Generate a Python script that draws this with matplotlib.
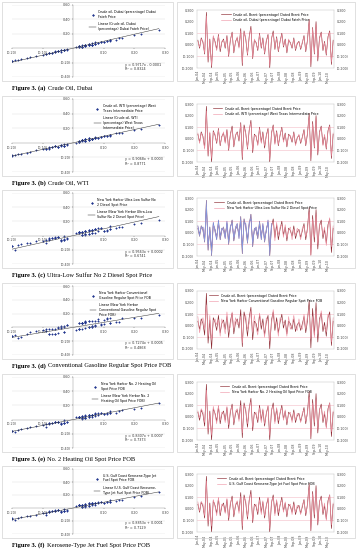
import textwrap
import numpy as np
import pandas as pd
import matplotlib
matplotlib.use("Agg")
import matplotlib.pyplot as plt
from matplotlib.patches import Rectangle
from matplotlib.ticker import FuncFormatter

# monthly returns in percent
brent = [4, -3, 6, 2, -8, 28, -15, 5, -20, 7,
         3, -4, 9, -6, 2, 5, -3, 8, -10, 4,
         11, -7, 3, 6, -2, 14, -18, 12, 5, -9,
         7, 16, -12, 4, 2, -5, 10, -3, 6, -8,
         3, 9, -20, 5, 12, -4, 7, -6, 3, 10,
         -2, 5, -7, 4, 2, -3, 6, -5, 1, 3,
         -4, 2, 8, -6, 4, 22, -19, 15, -8, 20,
         -14, 6, 11, -5, 3, -9, 7, 12, -17, 4]
dubai = [3, -2, 5, 3, -7, 25, -13, 4, -18, 8,
         2, -5, 8, -4, 3, 4, -2, 7, -9, 5,
         10, -6, 2, 7, -3, 12, -16, 11, 6, -8,
         6, 14, -11, 5, 1, -4, 9, -2, 5, -7,
         4, 8, -18, 6, 10, -3, 6, -5, 2, 9,
         -1, 4, -6, 5, 1, -2, 5, -4, 2, 2,
         -3, 3, 7, -5, 3, 20, -17, 14, -7, 18,
         -12, 5, 10, -4, 2, -8, 6, 11, -15, 3]
wti = [5, -4, 5, 1, -9, 24, -14, 6, -17, 6,
       4, -3, 8, -5, 1, 6, -4, 7, -9, 3,
       9, -6, 4, 5, -1, 13, -16, 10, 4, -8,
       8, 14, -10, 3, 3, -6, 9, -4, 5, -6,
       2, 8, -18, 4, 11, -5, 6, -5, 4, 9,
       -3, 4, -6, 3, 3, -2, 5, -6, 0, 4,
       -3, 1, 7, -5, 5, 19, -17, 13, -7, 18,
       -12, 5, 10, -6, 4, -8, 6, 11, -15, 5]
ulsd = [6, -1, 4, 5, -6, 22, -10, 2, -14, 9,
        1, -6, 11, -3, 4, 2, -5, 10, -7, 6,
        8, -4, 5, 8, -5, 11, -13, 9, 8, -6,
        9, 12, -8, 2, 5, -2, 7, -6, 8, -5,
        1, 11, -15, 8, 9, -7, 9, -2, 5, 7,
        -4, 7, -4, 2, 5, -6, 3, -2, 4, 1,
        -6, 5, 6, -3, 1, 18, -20, 12, -4, 16,
        -10, 8, 7, -2, 5, -11, 4, 13, -12, 6]
gasoline = [8, -6, 2, 7, -3, 18, -9, 9, -12, 2,
            6, 1, 5, -9, 6, 1, -7, 12, -4, -1,
            12, -2, 7, 1, 3, 8, -15, 6, 9, -3,
            2, 13, -5, 9, -2, -8, 11, 2, 1, -10,
            7, 4, -13, 1, 14, 2, 3, -9, 7, 5,
            3, 1, -9, 8, -3, 1, 9, -1, -4, 6,
            -1, -3, 10, -2, 8, 14, -11, 8, -10, 13,
            -7, 2, 13, 0, -2, -5, 10, 6, -14, 7]
heating = [5, -1, 7, 4, -5, 23, -12, 3, -16, 9,
           2, -6, 10, -3, 4, 3, -5, 9, -7, 6,
           9, -5, 5, 7, -4, 10, -14, 10, 7, -6,
           8, 13, -9, 2, 4, -3, 8, -5, 7, -6,
           2, 10, -16, 7, 9, -6, 8, -3, 4, 8,
           -3, 6, -5, 2, 4, -5, 4, -3, 3, 1,
           -5, 4, 6, -4, 2, 17, -17, 12, -5, 15,
           -11, 7, 8, -3, 5, -10, 5, 12, -13, 5]
jetfuel = [6, -2, 6, 4, -6, 24, -12, 3, -15, 8,
           2, -6, 10, -4, 4, 3, -4, 9, -8, 6,
           9, -5, 4, 7, -4, 11, -15, 10, 7, -7,
           8, 13, -10, 3, 4, -3, 8, -5, 7, -6,
           2, 10, -17, 7, 10, -6, 8, -3, 4, 8,
           -3, 6, -5, 3, 4, -5, 4, -3, 3, 1,
           -5, 4, 7, -4, 2, 19, -18, 13, -5, 17,
           -12, 7, 9, -3, 5, -10, 5, 12, -14, 5]

dates = pd.date_range("2004-01-01", periods=len(brent), freq="MS")

series_names = [
    "Crude oil, Dubai (percentage) Dubai Fateh Price",
    "Crude oil, WTI (percentage) West Texas Intermediate Price",
    "New York Harbor Ultra-Low Sulfur No 2 Diesel Spot Price",
    "New York Harbor Conventional Gasoline Regular Spot Price FOB",
    "New York Harbor No. 2 Heating Oil Spot Price FOB",
    "U.S. Gulf Coast Kerosene-Type Jet Fuel Spot Price FOB",
]
series_values = [dubai, wti, ulsd, gasoline, heating, jetfuel]
slopes = [0.9717, 0.9068, 0.9563, 0.7274, 0.8307, 0.8853]
intercepts = [-0.0001, 0.0003, 0.0002, 0.0005, 0.0007, 0.0001]
r2 = [0.8324, 0.8771, 0.6741, 0.4868, 0.7373, 0.7129]
cap_bold = ["Figure 3. (a)", "Figure 3. (b)", "Figure 3. (c)",
            "Figure 3. (d)", "Figure 3. (e)", "Figure 3. (f)"]
cap_rest = ["Crude Oil, Dubai", "Crude Oil, WTI",
            "Ultra-Low Sulfur No 2 Diesel Spot Price",
            "Conventional Gasoline Regular Spot Price FOB",
            "No. 2 Heating Oil Spot Price FOB",
            "Kerosene-Type Jet Fuel Spot Price FOB"]
brent_name = "Crude oil, Brent (percentage) Dated Brent Price"

W, H = 357, 550
tops = [2, 96, 190, 283, 374, 466]
caps = [88, 183, 275, 366, 459, 545]


def fr(x0, y0, x1, y1):
    return [x0 / W, 1 - y1 / H, (x1 - x0) / W, (y1 - y0) / H]


def paren(dec):
    def f(v, pos):
        s = f"{abs(v):.{dec}f}"
        return f"({s})" if v < -1e-9 else s
    return FuncFormatter(f)


fig = plt.figure(figsize=(W / 100, H / 100), dpi=100)
x = np.array(brent) / 100

for i in range(6):
    top, bot = tops[i], caps[i] - 7
    for x0, x1 in [(2, 173), (177, 355)]:
        fig.patches.append(Rectangle((x0 / W, 1 - bot / H), (x1 - x0) / W, (bot - top) / H,
                                     transform=fig.transFigure, fill=False,
                                     ec="#c8c8c8", lw=0.4))
    y = np.array(series_values[i]) / 100

    # scatter with trend line
    ax = fig.add_axes(fr(12, top + 3, 165, bot - 4))
    ax.scatter(x, y, s=1.5, c="#22368e", lw=0, marker="D",
               label="\n".join(textwrap.wrap(series_names[i], 36)))
    xs = np.array([x.min(), x.max()])
    ax.plot(xs, slopes[i] * xs + intercepts[i], color="#333333", lw=0.35,
            label="\n".join(textwrap.wrap("Linear (" + series_names[i] + ")", 34)))
    ax.set_xlim(-0.2, 0.3)
    ax.set_ylim(-0.4, 0.6)
    ax.set_xticks([-0.2, -0.1, 0.1, 0.2, 0.3])
    ax.set_yticks([-0.4, -0.2, 0.2, 0.4, 0.6])
    ax.xaxis.set_major_formatter(paren(2))
    ax.yaxis.set_major_formatter(paren(2))
    for s in ["left", "bottom"]:
        ax.spines[s].set_position(("data", 0))
        ax.spines[s].set_linewidth(0.3)
        ax.spines[s].set_color("#888888")
    for s in ["top", "right"]:
        ax.spines[s].set_visible(False)
    ax.grid(axis="y", color="#dddddd", lw=0.3)
    ax.set_axisbelow(True)
    ax.tick_params(labelsize=2.4, length=1, width=0.3, pad=1, colors="#444444")
    sign = "-" if intercepts[i] < 0 else "+"
    ax.text(0.74, 0.2, f"y = {slopes[i]:.4f}x {sign} {abs(intercepts[i]):.4f}\nR² = {r2[i]:.4f}",
            transform=ax.transAxes, fontsize=2.4, color="#333333", va="top")
    ax.legend(loc="upper right", bbox_to_anchor=(0.96, 0.97), fontsize=2.3,
              frameon=False, markerscale=1.2, handlelength=2, labelspacing=1.2)

    # time series
    ax2 = fig.add_axes(fr(197, top + 8, 334, top + 66))
    ax2.plot(dates, x, color="#8c2a32", lw=0.45, label=brent_name)
    ax2.plot(dates, y, color="#ee8fa0", lw=0.4, label=series_names[i])
    if i == 2:
        ax2.plot(dates[:44], y[:44], color="#6d86d8", lw=0.45)
        ax2.plot(dates[:44], x[:44], color="#8ea3e6", lw=0.35)
    ax2.set_ylim(-0.2, 0.3)
    ax2.set_yticks(np.arange(-0.2, 0.31, 0.1))
    ax2.yaxis.set_major_formatter(paren(3))
    ax2.set_xlim(dates[0] - pd.Timedelta(days=15), dates[-1] + pd.Timedelta(days=15))
    ax2.set_xticks(dates[::4])
    ax2.set_xticklabels([d.strftime("%b-%y") for d in dates[::4]], rotation=90)
    for v in [-0.1, 0.1]:
        ax2.axhline(v, color="#f6c9d2", lw=0.5, zorder=0)
    ax2.tick_params(labelsize=2.3, length=0, pad=2, colors="#444444",
                    labelright=True)
    for s in ax2.spines.values():
        s.set_linewidth(0.3)
        s.set_color("#bbbbbb")
    ax2.legend(loc="upper center", fontsize=2.3, frameon=False, handlelength=3,
               borderpad=0.3)

    # caption
    t = fig.text(12 / W, 1 - caps[i] / H, cap_bold[i], fontsize=4.6, weight="bold",
                 family="Liberation Serif", va="center")
    ax.annotate(cap_rest[i], xy=(1, 0.5), xycoords=t, xytext=(1.5, 0),
                textcoords="offset points", va="center", fontsize=4.6,
                family="Liberation Serif", annotation_clip=False)

fig.savefig("out.png", dpi=100)
